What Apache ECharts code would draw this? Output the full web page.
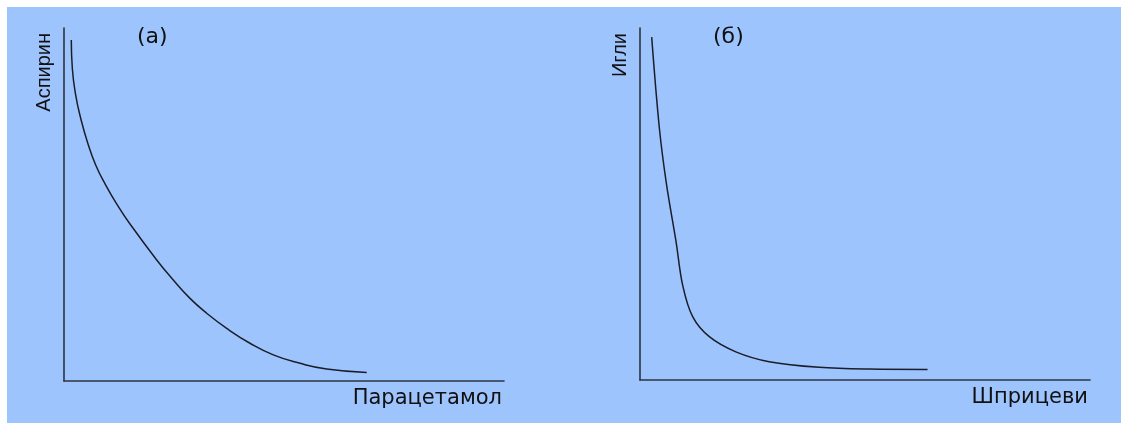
<!DOCTYPE html>
<html>
<head>
<meta charset="utf-8">
<script src="https://cdn.jsdelivr.net/npm/echarts@6/dist/echarts.min.js"></script>
<style>
html,body{margin:0;padding:0;background:#ffffff;width:1121px;height:423px;overflow:hidden;}
#c{position:absolute;left:7px;top:7px;width:1114px;height:416px;}
</style>
</head>
<body>
<div id="c"></div>
<script>
// Panel (а): Парацетамол (x) vs Аспирин (y), 0–100 scale
const aspX = [1.66, 1.89, 2.66, 3.80, 5.30, 7.20, 9.48, 12.11, 15.16, 21.07, 24.84, 28.64, 32.43, 36.98, 42.27, 47.57, 53.64, 59.70, 68.80];
const aspY = [96.6, 88.6, 81.0, 74.4, 67.8, 61.2, 55.5, 49.9, 44.2, 34.3, 28.6, 23.4, 19.2, 14.9, 10.7, 7.4, 5.0, 3.4, 2.4];
// Panel (б): Шприцеви (x) vs Игли (y), 0–100 scale
const shpX = [2.6, 4.3, 5.9, 8.0, 9.5, 11.7, 15.4, 21.3, 28.7, 39.8, 51.0, 63.9];
const shpY = [97.4, 71.6, 55.5, 39.4, 26.8, 18.0, 12.3, 8.0, 5.2, 3.6, 3.1, 3.0];
const panelTitles = ['(а)', '(б)'];
const xNames = ['Парацетамол', 'Шприцеви'];
const yNames = ['Аспирин', 'Игли'];

const pairs = (xs, ys) => xs.map((x, i) => [x, ys[i]]);
const axisLine = {show: true, onZero: false, lineStyle: {color: '#2e3340', width: 1.6}};
const nameFont = {fontFamily: 'DejaVu Sans', fontSize: 21, color: '#111'};

function xAxis(i) {
  return {
    type: 'value', gridIndex: i, min: 0, max: 100,
    axisLine: axisLine, axisTick: {show: false}, axisLabel: {show: false}, splitLine: {show: false},
    name: xNames[i], nameLocation: 'end', nameGap: -2,
    nameTextStyle: Object.assign({align: 'right', verticalAlign: 'top', padding: [7, 0, 0, 0]}, nameFont)
  };
}
function yAxis(i) {
  return {
    type: 'value', gridIndex: i, min: 0, max: 100,
    axisLine: axisLine, axisTick: {show: false}, axisLabel: {show: false}, splitLine: {show: false},
    name: yNames[i], nameLocation: 'end', nameGap: -5, nameRotate: 90,
    nameTextStyle: Object.assign({align: 'right', verticalAlign: 'bottom', padding: [0, 0, 10, 0]}, {fontFamily: 'Liberation Sans', fontSize: 20, color: '#111'})
  };
}

const chart = echarts.init(document.getElementById('c'));
chart.setOption({
  backgroundColor: '#9ec4fe',
  animation: false,
  title: [
    {text: panelTitles[0], left: 130, top: 19, textStyle: {fontFamily: 'DejaVu Sans', fontSize: 22, fontWeight: 'normal', color: '#111'}, padding: 0},
    {text: panelTitles[1], left: 706, top: 19, textStyle: {fontFamily: 'DejaVu Sans', fontSize: 22, fontWeight: 'normal', color: '#111'}, padding: 0}
  ],
  grid: [
    {left: 57, top: 21, width: 440, height: 353},
    {left: 633, top: 21, width: 450, height: 352}
  ],
  xAxis: [xAxis(0), xAxis(1)],
  yAxis: [yAxis(0), yAxis(1)],
  series: [
    {type: 'line', xAxisIndex: 0, yAxisIndex: 0, data: pairs(aspX, aspY), smooth: 0.5, showSymbol: false,
     lineStyle: {color: '#1b1d28', width: 1.5}},
    {type: 'line', xAxisIndex: 1, yAxisIndex: 1, data: pairs(shpX, shpY), smooth: 0.35, showSymbol: false,
     lineStyle: {color: '#1b1d28', width: 1.5}}
  ]
});
</script>
</body>
</html>
